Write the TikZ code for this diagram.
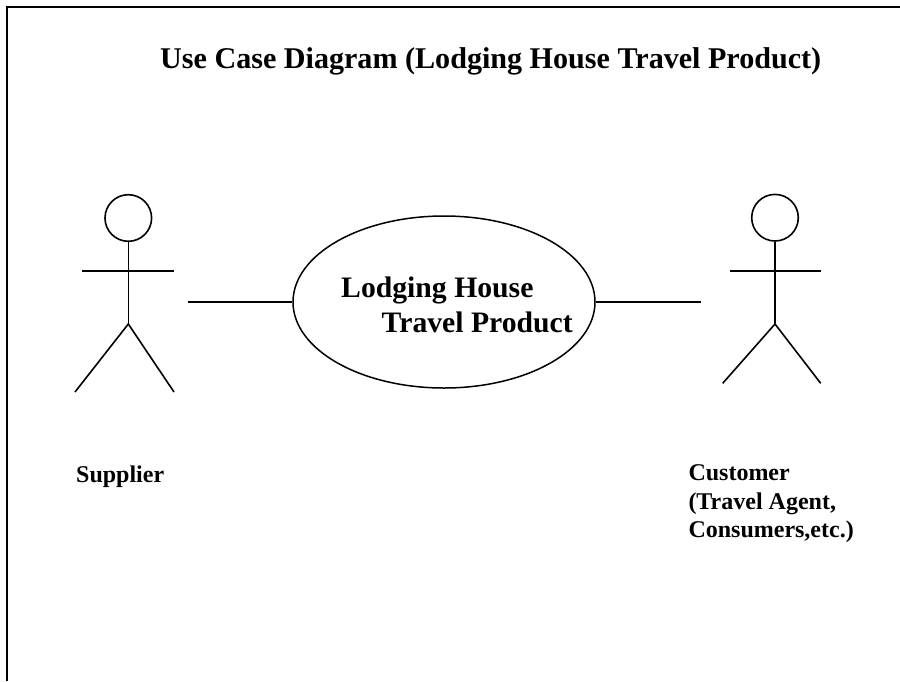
\documentclass[tikz,border=0pt]{standalone}
\usepackage{fontspec}
\setmainfont{Liberation Serif}
\usetikzlibrary{shapes.geometric}
\begin{document}
\begin{tikzpicture}[x=1pt,y=-1pt,
  frame/.style={line width=2pt},
  fig/.style={line width=1.6pt},
  head/.style={circle,draw,line width=1.6pt,minimum size=46.6pt,inner sep=0pt},
  usecase/.style={ellipse,draw,line width=1.5pt,minimum width=302pt,minimum height=172pt,inner sep=0pt},
  conn/.style={line width=1.6pt},
  lbl/.style={inner sep=0pt,anchor=base west,font=\bfseries\fontsize{24}{28.3}\selectfont,align=left},
  big/.style={inner sep=0pt,anchor=base west,font=\bfseries\fontsize{29.7}{35}\selectfont},
  ttl/.style={inner sep=0pt,anchor=base west,font=\bfseries\fontsize{30.1}{35}\selectfont}]
\useasboundingbox (0,0) rectangle (900,681);
% frame
\draw[frame] (7,681) -- (7,7) -- (900,7);
% title
\node[ttl] (title) at (160,68) {Use Case Diagram (Lodging House Travel Product)};
% use case
\node[usecase] (uc) at (444,302) {};
\node[big] (uc1) at (341,297.7) {Lodging House};
\node[big] (uc2) at (381.5,332.7) {Travel Product};
% supplier actor
\node[head] (shead) at (128.3,218) {};
\coordinate (ship) at (128.3,324);
\coordinate (sarmL) at (82.3,270.7);
\coordinate (sarmR) at (174,270.7);
\coordinate (slegL) at (75,392);
\coordinate (slegR) at (174,392);
\draw[fig] (shead.south) -- (ship);
\draw[fig] (sarmL) -- (sarmR);
\draw[fig] (slegL) -- (ship) -- (slegR);
% customer actor
\node[head] (chead) at (775,217.7) {};
\coordinate (chip) at (775,324);
\coordinate (carmL) at (729.7,270.7);
\coordinate (carmR) at (820.7,270.7);
\coordinate (clegL) at (722.7,383.3);
\coordinate (clegR) at (820.7,383.3);
\draw[fig] (chead.south) -- (chip);
\draw[fig] (carmL) -- (carmR);
\draw[fig] (clegL) -- (chip) -- (clegR);
% connectors
\coordinate (sconn) at (187.7,302);
\coordinate (cconn) at (700.7,302);
\draw[conn] (sconn) -- (uc.west);
\draw[conn] (uc.east) -- (cconn);
% labels
\node[lbl] (slabel) at (76,482.3) {Supplier};
\node[lbl] (clabel) at (688.3,537.3) {Customer\\(Travel Agent,\\Consumers,etc.)};
\end{tikzpicture}
\end{document}
